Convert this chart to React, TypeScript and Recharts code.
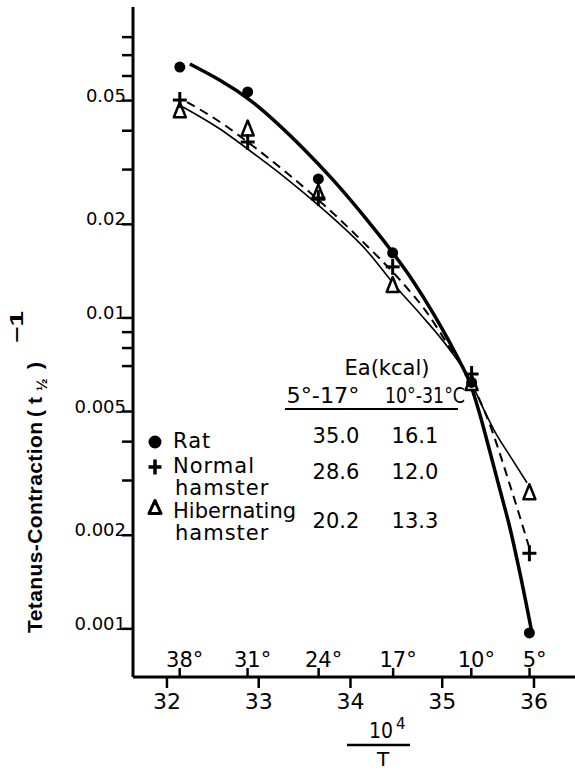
import React from 'react';
import { ComposedChart, XAxis, YAxis, Line, Scatter } from 'recharts';

const FONT = '"DejaVu Sans", "Liberation Sans", sans-serif';
const BOLD_FONT = '"Liberation Sans", Arial, sans-serif';

// x-axis (10^4 / T) ticks
const invTTicks = [32, 33, 34, 35, 36];
// temperature (°C) ticks drawn on top of the x axis
const tempLabels = [38, 31, 24, 17, 10, 5];
const tempTickValues = tempLabels.map((t) => 1e4 / (t + 273.15));

// y-axis ticks
const yMajor = [0.05, 0.02, 0.01, 0.005, 0.002, 0.001];
const yMajorLabels = ['0.05', '0.02', '0.01', '0.005', '0.002', '0.001'];
const yMinor = [0.08, 0.07, 0.06, 0.04, 0.03, 0.009, 0.008, 0.007, 0.004, 0.003];

// measured points (x = 10^4/T at 38,31,24,17,10,5 °C)
const pointX = [32.14, 32.88, 33.65, 34.46, 35.32, 35.95];
const ratY = [0.0641, 0.0533, 0.028, 0.0162, 0.0062, 0.00097];
const normalY = [0.0502, 0.0368, 0.0243, 0.0146, 0.0066, 0.00175];
const hibernY = [0.0467, 0.0408, 0.0254, 0.0128, 0.0062, 0.00276];

// hand-drawn fitted curves
const ratCurveX = [32.25, 32.905, 33.48, 33.81, 34.18, 34.463, 34.681, 34.899, 35.084, 35.226, 35.302, 35.411, 35.52, 35.629, 35.738, 35.847, 35.978];
const ratCurveY = [0.0656, 0.0502, 0.03521, 0.02778, 0.02066, 0.01618, 0.01315, 0.01038, 0.00831, 0.00691, 0.00618, 0.00488, 0.00371, 0.0028, 0.00211, 0.00151, 0.00097];

const normalCurveX = [32.218, 32.578, 32.937, 33.308, 33.7, 34.136, 34.539, 34.812, 35.084, 35.302, 35.499, 35.738, 35.967];
const normalCurveY = [0.04948, 0.04268, 0.03572, 0.02924, 0.02326, 0.01756, 0.01325, 0.01061, 0.00801, 0.00632, 0.0047, 0.0029, 0.00175];

const hibernCurveX = [32.174, 32.578, 32.937, 33.308, 33.722, 34.18, 34.507, 34.779, 35.084, 35.302, 35.455, 35.575, 35.738, 35.924];
const hibernCurveY = [0.04771, 0.04052, 0.03392, 0.02797, 0.02208, 0.01642, 0.01249, 0.01015, 0.00789, 0.00632, 0.00506, 0.0043, 0.0036, 0.00295];

// activation-energy table
const speciesLines = [['Rat'], ['Normal', 'hamster'], ['Hibernating', 'hamster']];
const ea5to17 = ['35.0', '28.6', '20.2'];
const ea10to31 = ['16.1', '12.0', '13.3'];

const toPts = (xs: number[], ys: number[]) => xs.map((x, i) => ({ x, y: ys[i] }));

const ratPts = toPts(pointX, ratY);
const normalPts = toPts(pointX, normalY);
const hibernPts = toPts(pointX, hibernY);
const ratCurve = toPts(ratCurveX, ratCurveY);
const normalCurve = toPts(normalCurveX, normalCurveY);
const hibernCurve = toPts(hibernCurveX, hibernCurveY);

const xTicks = [...invTTicks, ...tempTickValues].sort((a, b) => a - b);
const yTicks = [...yMajor, ...yMinor].sort((a, b) => a - b);

const Dot = ({ cx, cy, r = 5.5 }: any) => <circle cx={cx} cy={cy} r={r} fill="#000" />;
const Plus = ({ cx, cy, s = 7, w = 3 }: any) => (
  <g stroke="#000" strokeWidth={w} strokeLinecap="butt">
    <line x1={cx - s} x2={cx + s} y1={cy} y2={cy} />
    <line x1={cx} x2={cx} y1={cy - s - 1} y2={cy + s + 1} />
  </g>
);
const Tri = ({ cx, cy, hw = 6, hh = 7.5, w = 2.5 }: any) => (
  <path
    d={`M${cx},${cy - hh} L${cx + hw},${cy + hh} L${cx - hw},${cy + hh} Z`}
    fill="#fff"
    stroke="#000"
    strokeWidth={w}
    strokeLinejoin="round"
  />
);

const XTick = (props: any) => {
  const { x, y, payload } = props;
  const v = payload.value;
  const ii = invTTicks.indexOf(v);
  if (ii >= 0) {
    return (
      <g>
        <line x1={x} x2={x} y1={y} y2={y + 11} stroke="#000" strokeWidth={2.5} />
        <text x={x} y={y + 32} textAnchor="middle" fontSize={22} fontFamily={FONT} fill="#000">
          {invTTicks[ii]}
        </text>
      </g>
    );
  }
  const ti = tempTickValues.indexOf(v);
  if (ti < 0) return <g />;
  return (
    <g>
      <line x1={x} x2={x} y1={y} y2={y - 9} stroke="#000" strokeWidth={2.5} />
      <text x={x + 5} y={y - 10} textAnchor="middle" fontSize={21} fontFamily={FONT} fill="#000">
        {`${tempLabels[ti]}°`}
      </text>
    </g>
  );
};

const YTick = (props: any) => {
  const { x, y, payload } = props;
  const v = payload.value;
  const mi = yMajor.indexOf(v);
  return (
    <g>
      <line x1={x - 11} x2={x} y1={y} y2={y} stroke="#000" strokeWidth={2.5} />
      {mi >= 0 && (
        <text x={x - 7} y={y + 1} textAnchor="end" fontSize={18} fontFamily={FONT} fill="#000">
          {yMajorLabels[mi]}
        </text>
      )}
    </g>
  );
};

const rowMarkers = [
  (cx: number, cy: number) => <Dot cx={cx} cy={cy} r={6.5} />,
  (cx: number, cy: number) => <Plus cx={cx} cy={cy} s={6.5} w={3.5} />,
  (cx: number, cy: number) => <Tri cx={cx} cy={cy} hw={6} hh={6.5} w={3} />,
];
const rowMarkerY = [442, 467, 507];
const rowNameY = [[448], [473, 495], [518, 540]];
const rowNumY = [443, 479, 528];

export default function App() {
  return (
    <div style={{ position: 'absolute', left: 0, top: 0, width: 575, height: 770, background: '#fff' }}>
      <ComposedChart width={575} height={770} margin={{ top: 7, right: 0, bottom: 0, left: 0 }}>
        <XAxis
          type="number"
          dataKey="x"
          domain={[31.63, 36.447]}
          allowDataOverflow
          ticks={xTicks}
          interval={0}
          tick={XTick}
          tickLine={false}
          tickSize={0}
          tickMargin={0}
          height={93}
          axisLine={{ stroke: '#000', strokeWidth: 3 }}
        />
        <YAxis
          type="number"
          scale="log"
          domain={[0.0007, 0.1]}
          allowDataOverflow
          ticks={yTicks}
          interval={0}
          tick={YTick}
          tickLine={false}
          tickSize={0}
          tickMargin={0}
          width={133}
          axisLine={{ stroke: '#000', strokeWidth: 3 }}
        />
        <Line data={hibernCurve} dataKey="y" type="monotone" stroke="#000" strokeWidth={1.6} dot={false} isAnimationActive={false} />
        <Line data={normalCurve} dataKey="y" type="monotone" stroke="#000" strokeWidth={2} strokeDasharray="9 6" dot={false} isAnimationActive={false} />
        <Line data={ratCurve} dataKey="y" type="monotone" stroke="#000" strokeWidth={3.5} dot={false} isAnimationActive={false} />
        <Scatter data={hibernPts} dataKey="y" shape={(p: any) => <Tri cx={p.cx} cy={p.cy} />} isAnimationActive={false} />
        <Scatter data={normalPts} dataKey="y" shape={(p: any) => <Plus cx={p.cx} cy={p.cy} />} isAnimationActive={false} />
        <Scatter data={ratPts} dataKey="y" shape={(p: any) => <Dot cx={p.cx} cy={p.cy} />} isAnimationActive={false} />
      </ComposedChart>

      <svg
        width={575}
        height={770}
        style={{ position: 'absolute', left: 0, top: 0, pointerEvents: 'none' }}
      >
        {/* y axis title */}
        <g transform="translate(42,633) rotate(-90)" fontFamily={BOLD_FONT} fontWeight="bold" fill="#000">
          <text x={0} y={0} fontSize={21} textLength={211} lengthAdjust="spacing">Tetanus-Contraction</text>
          <text x={216} y={0} fontSize={21}>(</text>
          <text x={229} y={0} fontSize={21}>t</text>
          <text x={242} y={5} fontSize={15}>½</text>
          <text x={264} y={0} fontSize={21}>)</text>
          <text x={290} y={-19} fontSize={18} textLength={32} lengthAdjust="spacingAndGlyphs">−1</text>
        </g>

        {/* x axis title */}
        <g fontFamily={FONT} fill="#000">
          <text x={369} y={738} fontSize={22} textLength={24} lengthAdjust="spacingAndGlyphs">10</text>
          <text x={396} y={729} fontSize={15}>4</text>
          <line x1={347} x2={410} y1={745} y2={745} stroke="#000" strokeWidth={2.5} />
          <text x={383} y={766} fontSize={20} textAnchor="middle">T</text>
        </g>

        {/* activation energy table */}
        <g fontFamily={FONT} fill="#000" fontSize={21}>
          <text x={387} y={375} textAnchor="middle">Ea(kcal)</text>
          <text x={323} y={403} textAnchor="middle" textLength={73} lengthAdjust="spacingAndGlyphs">5°-17°</text>
          <text x={425} y={403} textAnchor="middle" textLength={80} lengthAdjust="spacingAndGlyphs">10°-31°C</text>
          <line x1={285} x2={458} y1={409} y2={409} stroke="#000" strokeWidth={2} />
          {speciesLines.map((lines, i) => (
            <g key={i}>
              {rowMarkers[i](155, rowMarkerY[i])}
              {lines.map((ln, j) => (
                <text key={j} x={j === 0 ? 173 : 175} y={rowNameY[i][j]} letterSpacing={ln === 'Hibernating' ? 0 : 1}>
                  {ln}
                </text>
              ))}
              <text x={336} y={rowNumY[i]} textAnchor="middle">{ea5to17[i]}</text>
              <text x={415} y={rowNumY[i]} textAnchor="middle">{ea10to31[i]}</text>
            </g>
          ))}
        </g>
      </svg>
    </div>
  );
}
